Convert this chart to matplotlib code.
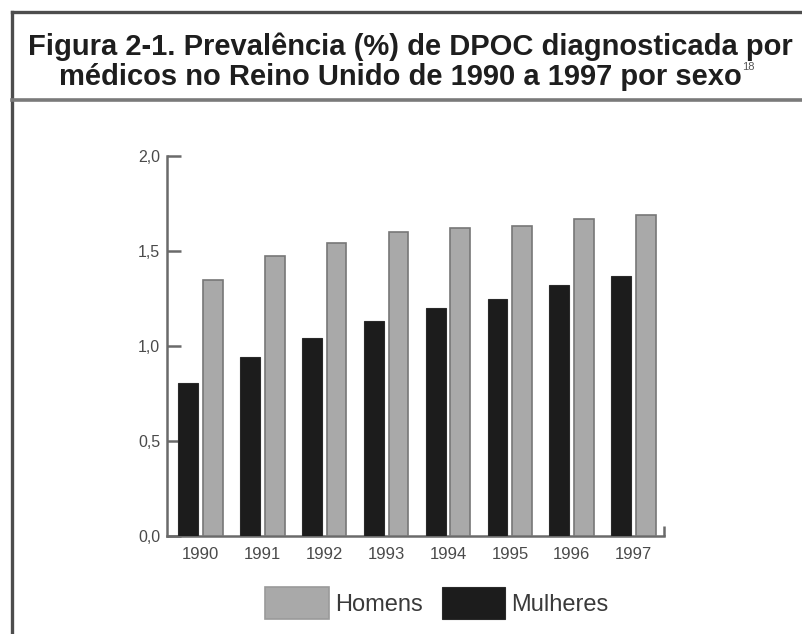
import numpy as np
import matplotlib
matplotlib.use('Agg')
import matplotlib.pyplot as plt
from matplotlib.lines import Line2D

plt.rcParams['font.family'] = ['Liberation Sans', 'DejaVu Sans']

# data
years = ['1990', '1991', '1992', '1993', '1994', '1995', '1996', '1997']
homens = [1.35, 1.475, 1.54, 1.60, 1.62, 1.63, 1.67, 1.69]
mulheres = [0.805, 0.94, 1.04, 1.13, 1.20, 1.25, 1.32, 1.37]
yticks = [0.0, 0.5, 1.0, 1.5, 2.0]
ytick_labels = ['0,0', '0,5', '1,0', '1,5', '2,0']

title_1 = 'Figura 2-1. Prevalência (%) de DPOC diagnosticada por'
title_2 = 'médicos no Reino Unido de 1990 a 1997 por sexo'
title_ref = '18'

gray = '#a9a9a9'
black = '#1c1c1c'
axis_col = '#6a6a6a'
text_col = '#4a4a4a'

fig = plt.figure(figsize=(8.03, 6.34), dpi=100)
W, H = 803, 634

def fx(px):
    return px / W

def fy(py):
    return 1 - py / H

# frame lines around the figure
frame_kw = dict(color='#4d4d4d', lw=2.4, transform=fig.transFigure)
fig.add_artist(Line2D([fx(12), 1], [fy(12), fy(12)], **frame_kw))
fig.add_artist(Line2D([fx(12), fx(12)], [fy(12), 0], **frame_kw))
fig.add_artist(Line2D([fx(12), 1], [fy(100), fy(100)], color='#7a7a7a', lw=2.6,
                      transform=fig.transFigure))

# title
fig.text(fx(410), fy(55), title_1, ha='center', va='baseline',
         fontsize=21, fontweight='bold', color='#1e1e1e')
t2 = fig.text(fx(400), fy(85), title_2, ha='center', va='baseline',
              fontsize=21, fontweight='bold', color='#1e1e1e')
fig.canvas.draw()
bb = t2.get_window_extent()
# superscript reference number just after "sexo"
fig.text(bb.x1 / W + 0.001, fy(62), title_ref, ha='left', va='top',
         fontsize=8, color='#555555')

ax = fig.add_axes([fx(167), fy(536), fx(664) - fx(167), fy(156) - fy(536)])

x = np.arange(len(years))
bw = 0.32
ax.bar(x - 0.2, mulheres, bw, color=black, edgecolor='#2a2a2a', lw=0.8,
       label='Mulheres', zorder=3)
ax.bar(x + 0.2, homens, bw, color=gray, edgecolor='#777777', lw=1.2,
       label='Homens', zorder=3)

ax.set_xlim(-0.54, 7.49)
ax.set_ylim(0, 2.0)

for s in ['top', 'right']:
    ax.spines[s].set_visible(False)
for s in ['left', 'bottom']:
    ax.spines[s].set_color(axis_col)
    ax.spines[s].set_linewidth(1.8)
ax.spines['left'].set_bounds(0, 2.0)

# small end mark at the right of the x axis
ax.plot([1, 1], [0, 0.026], transform=ax.transAxes, color=axis_col,
        lw=1.8, clip_on=False, solid_capstyle='butt')

ax.set_yticks(yticks)
ax.set_yticklabels(ytick_labels)
ax.tick_params(axis='y', direction='in', length=10, width=1.8, color=axis_col,
               labelsize=11.5, labelcolor=text_col, pad=5)
ax.set_xticks(x)
ax.set_xticklabels(years)
ax.tick_params(axis='x', length=0, labelsize=12, labelcolor=text_col, pad=8)

handles, labels = ax.get_legend_handles_labels()
leg = fig.legend([handles[1], handles[0]], ['Homens', 'Mulheres'],
                 loc='center', bbox_to_anchor=(fx(437), fy(603)), ncol=2,
                 frameon=False, fontsize=17, handlelength=2.7, handleheight=1.65,
                 handletextpad=0.25, columnspacing=0.8, borderpad=0)
for t in leg.get_texts():
    t.set_color('#3a3a3a')
leg.legend_handles[0].set_edgecolor('#9a9a9a')

fig.savefig('out.png', dpi=100)
